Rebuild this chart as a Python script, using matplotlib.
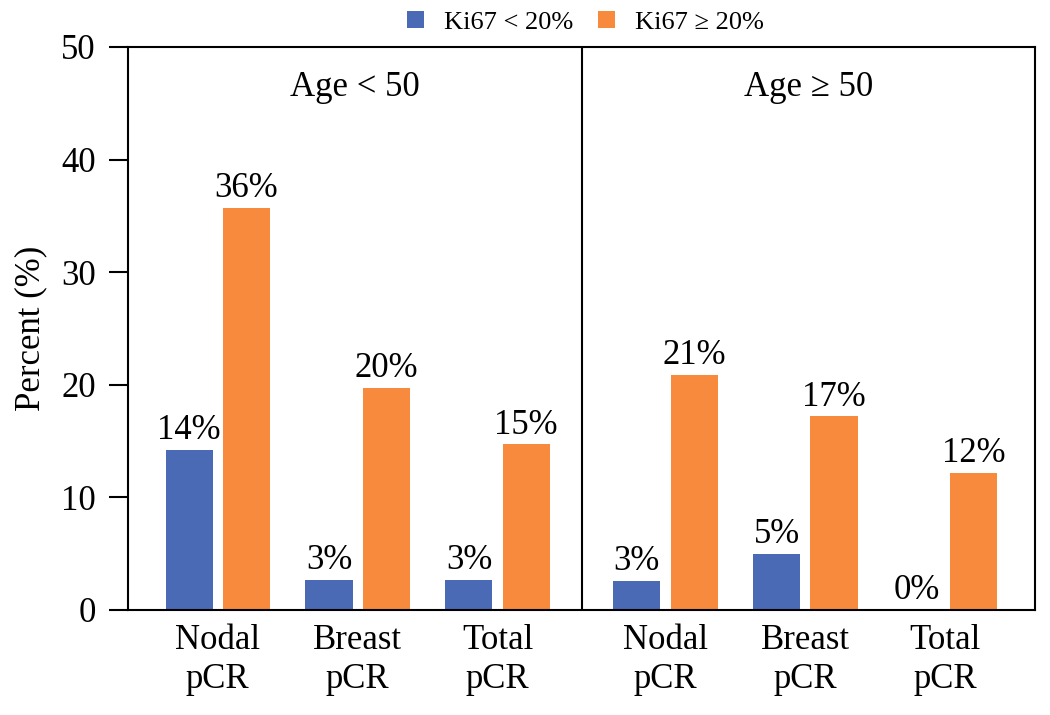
import matplotlib.pyplot as plt
import numpy as np

plt.rcParams['font.family'] = ['Liberation Serif', 'DejaVu Serif']

categories = ['Nodal\npCR', 'Breast\npCR', 'Total\npCR']
age_groups = ['Age < 50', 'Age \u2265 50']
series_names = ['Ki67 < 20%', 'Ki67 \u2265 20%']

# percent values
low_ki67_young = [14.2, 2.7, 2.7]
high_ki67_young = [35.7, 19.7, 14.7]
low_ki67_old = [2.6, 5.0, 0.0]
high_ki67_old = [20.9, 17.2, 12.2]

blue = '#4A6AB6'
orange = '#F88A3D'

fig = plt.figure(figsize=(10.5, 7.15), dpi=100)
ax = fig.add_axes([0.1219, 0.1469, 0.8638, 0.7874])

x_young = np.arange(3)
x_old = np.arange(3) + 3.2
off = 0.204
w = 0.336


def label_bars(bars):
    for b in bars:
        h = b.get_height()
        ax.annotate('%d%%' % int(h + 0.5), (b.get_x() + b.get_width() / 2, h),
                    xytext=(0, 2), textcoords='offset points',
                    ha='center', va='bottom', fontsize=25)


b1 = ax.bar(x_young - off, low_ki67_young, w, color=blue, label=series_names[0])
b2 = ax.bar(x_young + off, high_ki67_young, w, color=orange, label=series_names[1])
b3 = ax.bar(x_old - off, low_ki67_old, w, color=blue)
b4 = ax.bar(x_old + off, high_ki67_old, w, color=orange)
for bars in (b1, b2, b3, b4):
    label_bars(bars)

ax.set_xlim(-0.64, 5.84)
ax.set_ylim(0, 50)
ax.axvline(2.607, color='black', lw=1.5)

ax.text((-0.64 + 2.607) / 2, 46.4, age_groups[0], ha='center', va='center', fontsize=25)
ax.text((2.607 + 5.84) / 2, 46.4, age_groups[1], ha='center', va='center', fontsize=25)

ax.set_xticks(np.concatenate([x_young, x_old]))
ax.set_xticklabels(categories * 2, fontsize=25, linespacing=1.25)
ax.tick_params(axis='x', length=0, pad=10)
ax.set_yticks(np.arange(0, 51, 10))
ax.tick_params(axis='y', labelsize=25, length=14, width=1.5, pad=9, direction='out')

for s in ax.spines.values():
    s.set_linewidth(1.5)

ax.set_ylabel('Percent (%)', fontsize=25, labelpad=10)

ax.legend(loc='lower center', bbox_to_anchor=(0.504, 1.0), ncol=2, frameon=False,
          fontsize=19, handlelength=0.65, handleheight=0.65, handletextpad=0.75,
          columnspacing=0.95, borderaxespad=0.1)

plt.savefig('out.png')
